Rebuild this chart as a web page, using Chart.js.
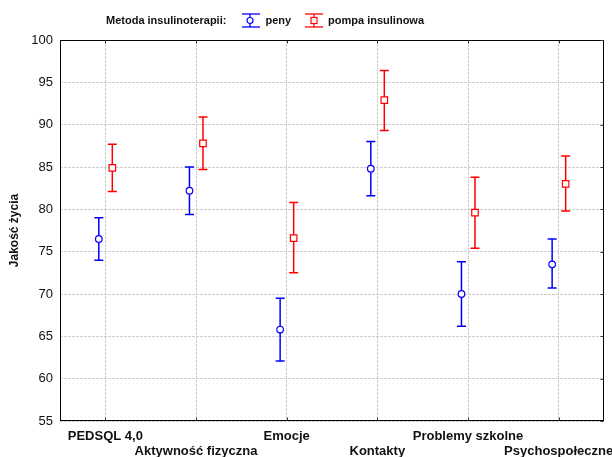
<!DOCTYPE html>
<html>
<head>
<meta charset="utf-8">
<script src="https://cdn.jsdelivr.net/npm/chart.js@4"></script>
<style>
html,body{margin:0;padding:0;background:#fff;}
#wrap{position:relative;width:612px;height:457px;}
canvas{position:absolute;left:0;top:0;}
#legend{position:absolute;left:106px;top:13px;height:14px;font:bold 11px "Liberation Sans",Arial,sans-serif;color:#111;line-height:13px;white-space:nowrap;display:flex;align-items:center;}
#legend svg{display:block;}
</style>
</head>
<body>
<div id="wrap">
<canvas id="c" width="612" height="457"></canvas>
<div id="legend">
  <span>Metoda insulinoterapii:</span>
  <svg width="20" height="15" style="margin-left:15px" viewBox="0 0 20 15"><line x1="1" y1="1" x2="19" y2="1" stroke="#0000ff" stroke-width="1.3"/><line x1="1" y1="14" x2="19" y2="14" stroke="#0000ff" stroke-width="1.3"/><line x1="9" y1="1" x2="9" y2="14" stroke="#0000ff" stroke-width="1.3"/><circle cx="9" cy="7.5" r="3" fill="#fff" stroke="#0000ff" stroke-width="1.2"/></svg>
  <span style="margin-left:4px">peny</span>
  <svg width="20" height="15" style="margin-left:13px" viewBox="0 0 20 15"><line x1="1" y1="1" x2="19" y2="1" stroke="#ff0000" stroke-width="1.3"/><line x1="1" y1="14" x2="19" y2="14" stroke="#ff0000" stroke-width="1.3"/><line x1="10" y1="1" x2="10" y2="14" stroke="#ff0000" stroke-width="1.3"/><rect x="7" y="4.5" width="6" height="6" fill="#fff" stroke="#ff0000" stroke-width="1.2"/></svg>
  <span style="margin-left:4px">pompa insulinowa</span>
</div>
</div>
<script>
const categories = ['PEDSQL 4,0','Aktywność fizyczna','Emocje','Kontakty','Problemy szkolne','Psychospołeczne'];
const penyMean  = [76.5, 82.2, 65.8, 84.8, 70.0, 73.5];
const penyLow   = [74.0, 79.4, 62.1, 81.6, 66.2, 70.7];
const penyHigh  = [79.0, 85.0, 69.5, 88.0, 73.8, 76.5];
const pompaMean = [84.9, 87.8, 76.6, 92.9, 79.6, 83.0];
const pompaLow  = [82.1, 84.7, 72.5, 89.3, 75.4, 79.8];
const pompaHigh = [87.7, 90.9, 80.8, 96.4, 83.8, 86.3];
const yTicks = [55, 60, 65, 70, 75, 80, 85, 90, 95, 100];

const BLUE = '#0000ff', RED = '#ff0000';
const penyShift = -0.072, pompaShift = 0.077;

Chart.defaults.font.family = '"Liberation Sans", Arial, sans-serif';
Chart.defaults.color = '#111';

const errorBars = {
  id: 'errorBars',
  beforeDatasetsDraw(chart) {
    const ctx = chart.ctx, xs = chart.scales.x, ys = chart.scales.y;
    chart.data.datasets.forEach(ds => {
      ctx.save();
      ctx.strokeStyle = ds.borderColor;
      ctx.lineWidth = 1.5;
      ds.data.forEach((p, i) => {
        const x = xs.getPixelForValue(p.x);
        const y1 = ys.getPixelForValue(ds.low[i]);
        const y2 = ys.getPixelForValue(ds.high[i]);
        ctx.beginPath();
        ctx.moveTo(x, y1); ctx.lineTo(x, y2);
        ctx.moveTo(x - 4.5, y1); ctx.lineTo(x + 4.5, y1);
        ctx.moveTo(x - 4.5, y2); ctx.lineTo(x + 4.5, y2);
        ctx.stroke();
      });
      ctx.restore();
    });
  }
};

const frame = {
  id: 'frame',
  afterDraw(chart) {
    const {ctx, chartArea: a} = chart;
    const xs = chart.scales.x, ys = chart.scales.y;
    ctx.save();
    ctx.strokeStyle = '#000';
    ctx.lineWidth = 1;
    const l = Math.round(a.left) + 0.5, t = Math.round(a.top) + 0.5;
    const r = Math.round(a.right) - 0.5, b = Math.round(a.bottom) - 0.5;
    ctx.strokeRect(l, t, r - l, b - t);
    ctx.strokeStyle = '#333';
    ctx.beginPath();
    categories.forEach((c, i) => {
      const x = Math.round(xs.getPixelForValue(i)) + 0.5;
      ctx.moveTo(x, b); ctx.lineTo(x, b - 3);
      ctx.moveTo(x, t); ctx.lineTo(x, t + 3);
    });
    yTicks.forEach(v => {
      const y = Math.round(ys.getPixelForValue(v)) + 0.5;
      ctx.moveTo(r, y); ctx.lineTo(r - 3, y);
    });
    ctx.stroke();
    ctx.restore();
  }
};

new Chart(document.getElementById('c'), {
  type: 'scatter',
  data: {
    datasets: [
      {
        label: 'peny',
        data: penyMean.map((v, i) => ({x: i + penyShift, y: v})),
        low: penyLow, high: penyHigh,
        borderColor: BLUE, backgroundColor: '#fff',
        pointStyle: 'circle', pointRadius: 3.3, pointBorderWidth: 1.2,
        pointHoverRadius: 3.3
      },
      {
        label: 'pompa insulinowa',
        data: pompaMean.map((v, i) => ({x: i + pompaShift, y: v})),
        low: pompaLow, high: pompaHigh,
        borderColor: RED, backgroundColor: '#fff',
        pointStyle: 'rect', pointRadius: 4.6, pointBorderWidth: 1.2,
        pointHoverRadius: 4.6
      }
    ]
  },
  options: {
    responsive: false,
    animation: false,
    devicePixelRatio: 1,
    layout: {padding: {top: 40, right: 8, left: 0, bottom: 0}},
    plugins: {legend: {display: false}, tooltip: {enabled: false}},
    scales: {
      x: {
        type: 'linear',
        min: -0.5, max: 5.5,
        afterFit(s) { s.height = 36; },
        afterBuildTicks(s) {
          s.ticks = [{value: -0.5}].concat(categories.map((c, i) => ({value: i}))).concat([{value: 5.5}]);
        },
        ticks: {
          autoSkip: false, maxRotation: 0, minRotation: 0, padding: 8,
          font: {size: 13, weight: 'bold', lineHeight: 1.15},
          color: '#111',
          callback(v) {
            if (!Number.isInteger(v) || v < 0 || v >= categories.length) return '';
            return v % 2 === 0 ? [categories[v], ''] : ['', categories[v]];
          }
        },
        grid: {
          drawTicks: false,
          color(ctx) { return (ctx.tick && Number.isInteger(ctx.tick.value) && ctx.tick.value >= 0 && ctx.tick.value < categories.length) ? '#cfcfcf' : 'rgba(0,0,0,0)'; }
        },
        border: {display: false, dash: [3, 1]}
      },
      y: {
        min: 55, max: 100,
        afterFit(s) { s.width = 60; },
        afterBuildTicks(s) { s.ticks = yTicks.map(v => ({value: v})); },
        ticks: {padding: 7, font: {size: 13}, color: '#111'},
        title: {display: true, text: 'Jakość życia', font: {size: 12, weight: 'bold'}, color: '#111', padding: {top: 7, bottom: 0}},
        grid: {drawTicks: false, color: '#cfcfcf'},
        border: {display: false, dash: [3, 1]}
      }
    }
  },
  plugins: [errorBars, frame]
});
</script>
</body>
</html>
